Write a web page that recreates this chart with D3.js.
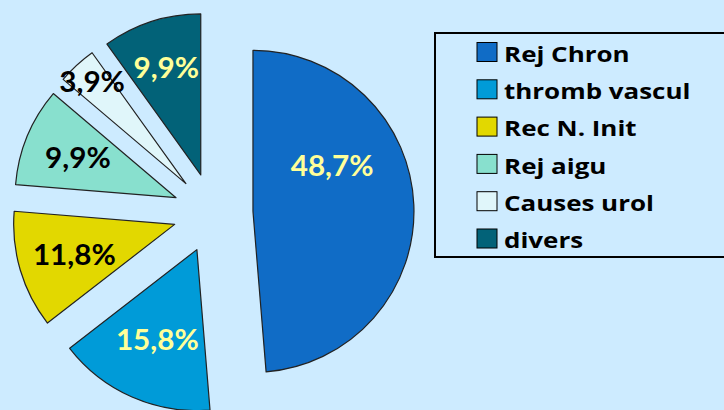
<!DOCTYPE html>
<html>
<head>
<meta charset="utf-8">
<script src="https://cdn.jsdelivr.net/npm/d3@7"></script>
<style>
  body { margin: 0; background: #cdebff; }
  svg { display: block; }
  .pct { font-family: Lato, "Open Sans", sans-serif; font-weight: bold; font-size: 28px; }
  .leg { font-family: "Open Sans", Lato, sans-serif; font-weight: bold; font-size: 22px; }
</style>
</head>
<body>
<div id="chart"></div>
<script>
// data
const categories = ['Rej Chron', 'thromb vascul', 'Rec N. Init', 'Rej aigu', 'Causes urol', 'divers'];
const values = [48.7, 15.8, 11.8, 9.9, 3.9, 9.9];
const labels = ['48,7%', '15,8%', '11,8%', '9,9%', '3,9%', '9,9%'];

// look
const colors = ['#106cc6', '#009bd8', '#e2d800', '#88e0ce', '#e0f6fa', '#026278'];
const labelColors = ['#ffff99', '#ffff99', '#000', '#000', '#000', '#ffff99'];
// where the label sits inside its slice: [fraction of the angle, fraction of radius]
const labelSpot = [[0.34, 0.57], [0.5, 0.61], [0.5, 0.65], [0.5, 0.66], [0.5, 0.86], [0.5, 0.70]];

const w = 724;
const h = 410;
const cx = 213;
const cy = 213;
const r = 161;
const explode = 40;

const svg = d3.select('#chart')
              .append('svg')
              .attr('width', w)
              .attr('height', h);

svg.append('rect')
   .attr('width', w)
   .attr('height', h)
   .attr('fill', '#cdebff');

const pie = d3.pie().sort(null).value(d => d);
const arcs = pie(values);
const arc = d3.arc().innerRadius(0).outerRadius(r);

const g = svg.append('g')
             .attr('transform', `translate(${cx}, ${cy})`);

const slice = g.selectAll('g.slice')
               .data(arcs)
               .enter()
               .append('g')
               .attr('class', 'slice')
               .attr('transform', d => {
                 const a = (d.startAngle + d.endAngle) / 2;
                 return `translate(${Math.sin(a) * explode}, ${-Math.cos(a) * explode})`;
               });

slice.append('path')
     .attr('d', arc)
     .attr('fill', (d, i) => colors[i])
     .attr('stroke', '#222')
     .attr('stroke-width', 1.2)
     .attr('stroke-linejoin', 'round');

slice.append('text')
     .attr('class', 'pct')
     .attr('transform', (d, i) => {
       const a = d.startAngle + (d.endAngle - d.startAngle) * labelSpot[i][0];
       const x = Math.sin(a) * r * labelSpot[i][1];
       const y = -Math.cos(a) * r * labelSpot[i][1];
       return `translate(${x}, ${y}) scale(1.06, 1)`;
     })
     .attr('text-anchor', 'middle')
     .attr('dominant-baseline', 'central')
     .attr('fill', (d, i) => labelColors[i])
     .text((d, i) => labels[i]);

// legend
const legend = svg.append('g')
                  .attr('transform', 'translate(435, 33)');

legend.append('rect')
      .attr('width', 300)
      .attr('height', 224)
      .attr('fill', 'none')
      .attr('stroke', '#000')
      .attr('stroke-width', 2);

const row = legend.selectAll('g.row')
                  .data(categories)
                  .enter()
                  .append('g')
                  .attr('class', 'row')
                  .attr('transform', (d, i) => `translate(42, ${19 + i * 37.3})`);

row.append('rect')
   .attr('x', 0)
   .attr('y', -9.5)
   .attr('width', 20)
   .attr('height', 19)
   .attr('fill', (d, i) => colors[i])
   .attr('stroke', '#000')
   .attr('stroke-width', 1);

// the legend type is drawn a bit wider than the font's own shapes
row.append('text')
   .attr('class', 'leg')
   .attr('transform', 'translate(27, 1) scale(1.18, 1)')
   .attr('dominant-baseline', 'central')
   .attr('fill', '#000')
   .text(d => d);
</script>
</body>
</html>
